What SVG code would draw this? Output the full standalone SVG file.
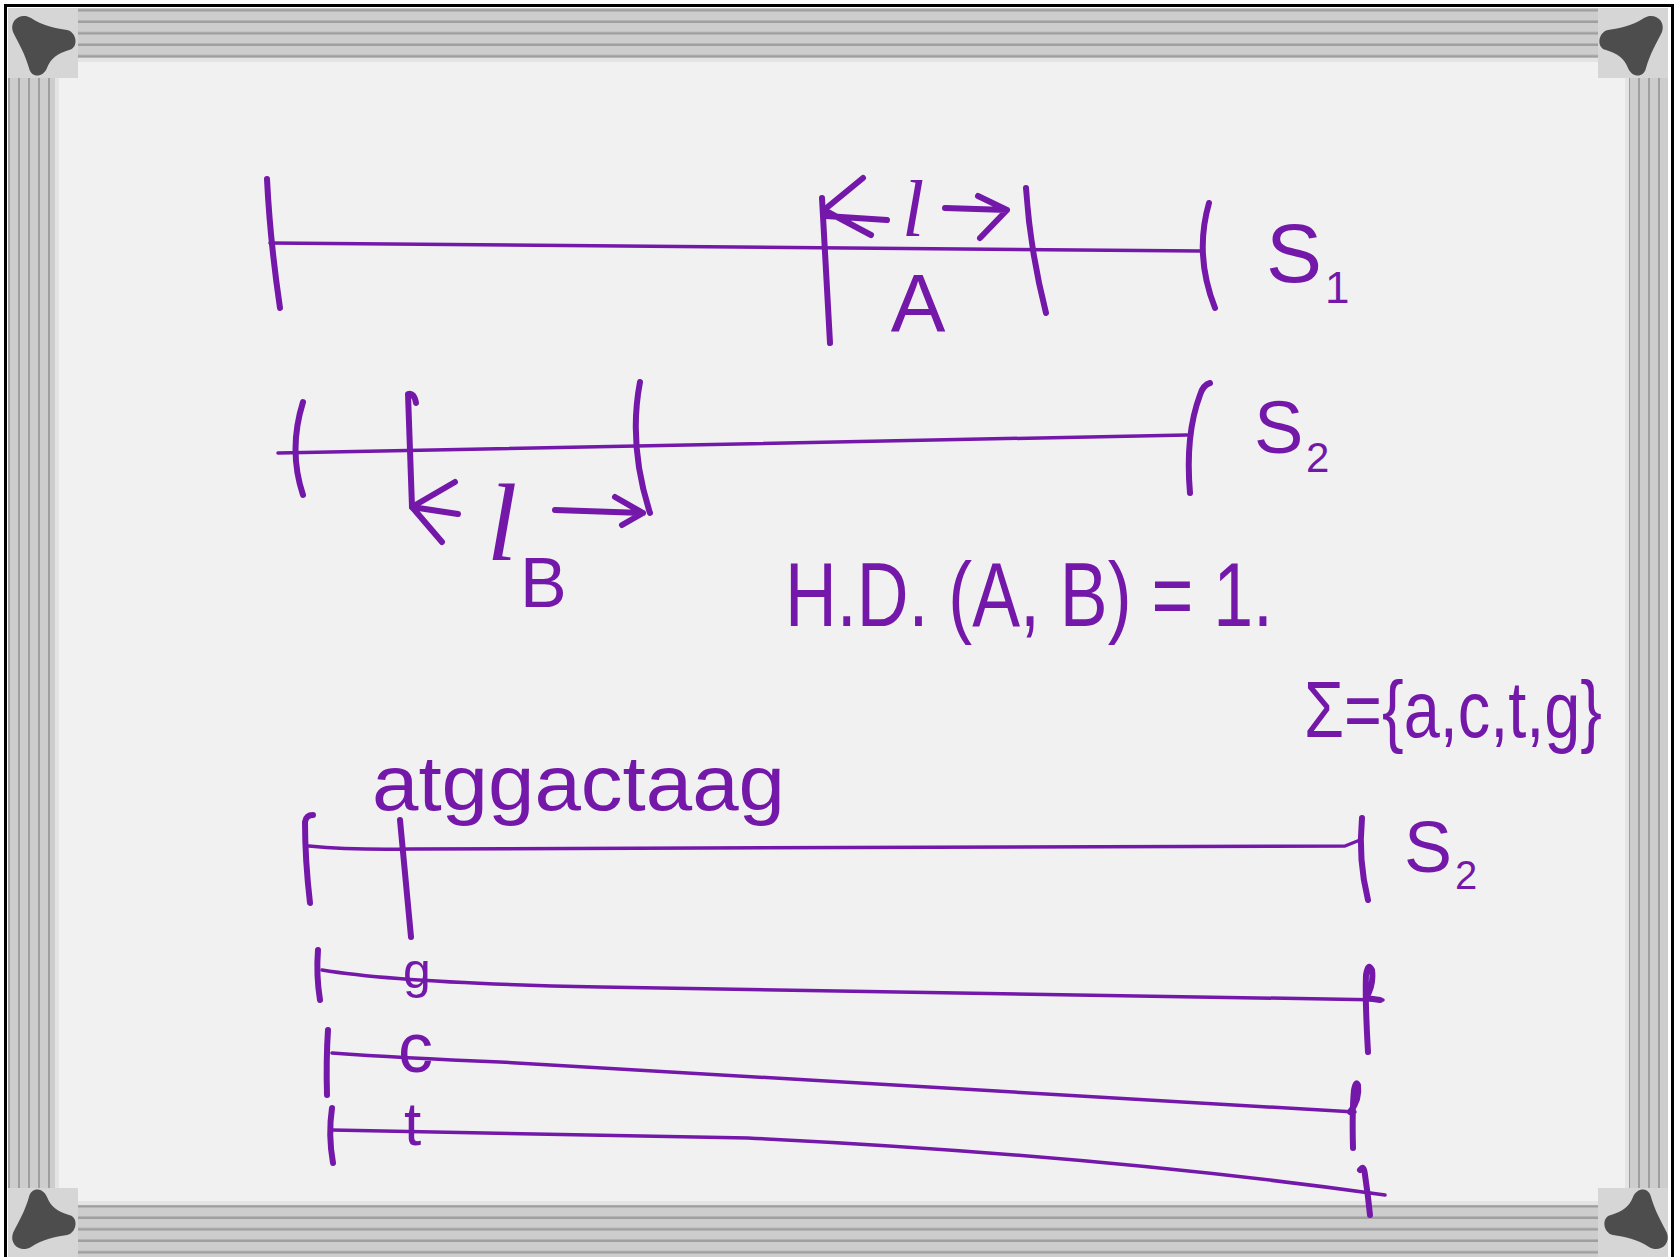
<svg xmlns="http://www.w3.org/2000/svg" width="1675" height="1257" viewBox="0 0 1675 1257">
<style>
.ink{stroke:#7418aa;fill:none;stroke-linecap:round;stroke-linejoin:round}
.thin{stroke-width:3.5}
.tick{stroke-width:6}
.lbl{fill:#7418aa;font-family:"Liberation Sans",Arial,sans-serif}
.scr{fill:#7418aa;font-family:"Liberation Serif",serif;font-style:italic}
.blob{fill:#4d4d4d}
.corner{fill:#d6d6d6}
</style>
<defs>
<pattern id="hs" width="8" height="11.5" patternUnits="userSpaceOnUse"><rect width="8" height="11.5" fill="#cdcdcd"/><rect y="9" width="8" height="2.5" fill="#9f9f9f"/></pattern>
<pattern id="vs" width="10" height="8" patternUnits="userSpaceOnUse"><rect width="10" height="8" fill="#cdcdcd"/><rect x="8" width="2.5" height="8" fill="#9f9f9f"/></pattern>
<path id="blobShape" d="M-30,-12 C-34,-24 -22,-32 -12,-26 C0,-18 12,-16 24,-14 C34,-12 36,4 26,6 C14,10 8,14 4,24 C0,34 -12,34 -14,24 C-18,10 -24,0 -30,-12 Z"/>
</defs>
<g id="frame">
<rect x="0" y="0" width="1675" height="1257" fill="#ffffff"/>
<rect x="8" y="8" width="1660" height="52" fill="url(#hs)"/>
<rect x="8" y="1203" width="1660" height="54" fill="url(#hs)"/>
<rect x="8" y="8" width="49" height="1249" fill="url(#vs)"/>
<rect x="1627" y="8" width="41" height="1249" fill="url(#vs)"/>
<rect x="57" y="60" width="1570" height="1143" rx="14" fill="#f1f1f1"/>
<rect x="57" y="60" width="1570" height="1143" rx="14" fill="none" stroke="#e4e4e4" stroke-width="4"/>
<rect class="corner" x="8" y="8" width="70" height="70"/>
<rect class="corner" x="1598" y="8" width="70" height="70"/>
<rect class="corner" x="8" y="1188" width="70" height="69"/>
<rect class="corner" x="1598" y="1188" width="70" height="69"/>
<use href="#blobShape" class="blob" transform="translate(43,44)"/>
<use href="#blobShape" class="blob" transform="translate(1632,44) scale(-1,1)"/>
<use href="#blobShape" class="blob" transform="translate(43,1221) scale(1,-1)"/>
<use href="#blobShape" class="blob" transform="translate(1637,1221) scale(-1,-1)"/>
<rect x="5.5" y="5.5" width="1667" height="1262" fill="none" stroke="#000" stroke-width="3"/>
</g>
<g id="s1">
<path class="ink thin" d="M270,243 Q700,247 1201,251"/>
<path class="ink tick" d="M267,179 Q270,240 280,308"/>
<path class="ink tick" d="M822,198 Q826,270 830,343"/>
<path class="ink tick" d="M1026,188 Q1030,250 1046,313"/>
<path class="ink tick" d="M1209,203 Q1194,255 1215,308"/>
<text class="scr" x="913" y="236" font-size="80" text-anchor="middle">l</text>
<text class="lbl" x="918" y="331" font-size="82" text-anchor="middle">A</text>
<text class="lbl" x="1266" y="282" font-size="84">S</text>
<text class="lbl" x="1325" y="303" font-size="44">1</text>
</g>
<g id="s2-top">
<path class="ink thin" d="M278,453 Q700,445 1187,435"/>
<path class="ink tick" d="M303,402 Q288,450 303,495"/>
<path class="ink tick" d="M416,403 Q414,392 408,394 Q410,450 412,507"/>
<path class="ink tick" d="M640,382 Q628,445 650,513"/>
<path class="ink tick" d="M1210,383 Q1203,385 1200,395 Q1185,435 1190,493"/>
<text class="scr" x="502" y="560" font-size="110" text-anchor="middle">l</text>
<text class="lbl" x="520" y="607" font-size="70">B</text>
<text class="lbl" x="1254" y="453" font-size="74">S</text>
<text class="lbl" x="1306" y="472" font-size="42">2</text>
</g>
<g id="hd-formula">
<text class="lbl" x="785" y="626" font-size="90" textLength="488" lengthAdjust="spacingAndGlyphs">H.D. (A, B) = 1.</text>
</g>
<g id="alphabet">
<text class="lbl" x="1304" y="737" font-size="80" textLength="298" lengthAdjust="spacingAndGlyphs">Σ={a,c,t,g}</text>
</g>
<g id="s2-bottom">
<text class="lbl" x="372" y="810" font-size="78" textLength="413" lengthAdjust="spacingAndGlyphs">atggactaag</text>
<path class="ink thin" d="M309,846 Q350,850 410,849 Q900,846 1345,846 L1360,840"/>
<path class="ink tick" d="M313,815 Q306,815 305,822 Q305,860 310,903"/>
<path class="ink tick" d="M400,820 L411,937"/>
<path class="ink tick" d="M1362,818 Q1358,860 1368,900"/>
<text class="lbl" x="1404" y="872" font-size="72">S</text>
<text class="lbl" x="1455" y="889" font-size="40">2</text>
</g>
<g id="row-g">
<path class="ink tick" d="M318,950 Q316,975 320,1000"/>
<path class="ink thin" d="M322,970 Q400,983 600,987 Q1000,994 1383,1000"/>
<path class="ink tick" d="M1368,1052 Q1365,1000 1366,975 Q1368,962 1372,970 Q1374,985 1366,998 L1380,1000"/>
<text class="lbl" x="403" y="988" font-size="50">g</text>
</g>
<g id="row-c">
<path class="ink tick" d="M328,1030 Q326,1060 327,1095"/>
<path class="ink thin" d="M332,1053 Q400,1058 500,1062 Q900,1085 1355,1112"/>
<path class="ink tick" d="M1353,1148 Q1352,1110 1354,1090 Q1356,1080 1358,1085 Q1360,1100 1350,1112"/>
<text class="lbl" x="398" y="1072" font-size="70">c</text>
</g>
<g id="row-t">
<path class="ink tick" d="M332,1108 Q328,1135 333,1163"/>
<path class="ink thin" d="M332,1130 Q550,1135 748,1138 Q1100,1155 1385,1195"/>
<path class="ink tick" d="M1360,1170 Q1364,1164 1365,1175 Q1368,1195 1370,1215"/>
<text class="lbl" x="404" y="1145" font-size="62">t</text>
</g>
<g id="connectors">
<path class="ink tick" d="M863,178 L824,210 L871,235 M826,216 L887,220"/>
<path class="ink tick" d="M945,208 L1007,210 M978,196 L1007,210 L980,238"/>
<path class="ink tick" d="M455,482 L412,507 L442,542 M412,507 L458,514"/>
<path class="ink tick" d="M555,510 L643,513 M615,497 L643,513 L622,525"/>
</g>
</svg>
